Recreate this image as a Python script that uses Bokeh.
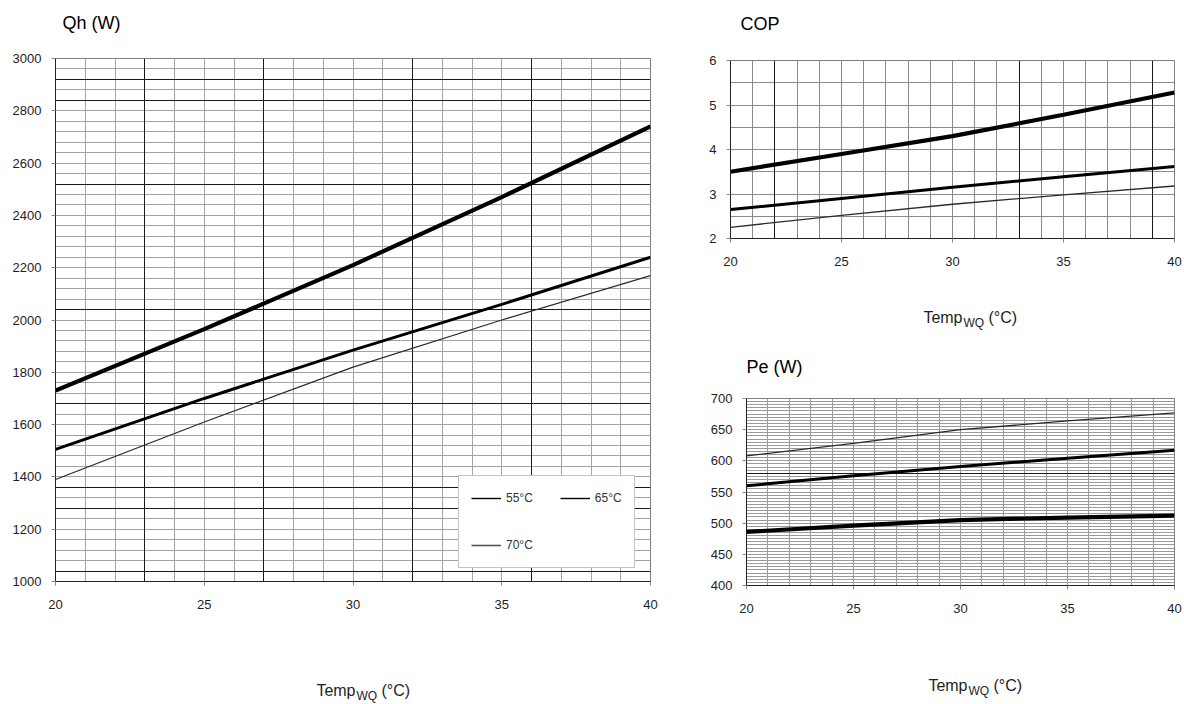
from bokeh.plotting import figure
from bokeh.layouts import row, column
from bokeh.models import (Legend, LegendItem, Grid, SingleIntervalTicker, FixedTicker,
                          Range1d)
from bokeh.core.properties import value
from bokeh.embed import file_html
from bokeh.resources import INLINE

# ---------------- data ----------------
temp = [20, 25, 30, 35, 40]
series_labels = ["55°C", "65°C", "70°C"]

qh_55 = [1730, 1965, 2210, 2470, 2740]
qh_65 = [1505, 1700, 1885, 2060, 2240]
qh_70 = [1390, 1610, 1820, 2000, 2170]

cop_55 = [3.50, 3.90, 4.30, 4.78, 5.28]
cop_65 = [2.65, 2.90, 3.15, 3.39, 3.62]
cop_70 = [2.25, 2.52, 2.77, 2.98, 3.18]

pe_55 = [486, 496, 505, 509, 512]
pe_65 = [560, 576, 591, 604, 617]
pe_70 = [608, 628, 650, 664, 677]

x_ticks = [20, 25, 30, 35, 40]
titles = ["Qh (W)", "COP", "Pe (W)"]

# ---------------- styling ----------------
FONT = "Liberation Sans"
TXT = "#1e1e24"
LINE_STYLES = [dict(line_color="black", line_width=4.2),
               dict(line_color="black", line_width=3.0),
               dict(line_color="#2a2a2a", line_width=1.3)]
BASE_SHIFT = -6   # text glyph baseline correction


def make_fig(w, h, bl, br, bt, bb, yr, ystep, xgrid_step, ygrid_step,
             dark_x, dark_y, grid_color):
    p = figure(width=w, height=h, x_range=Range1d(20, 40), y_range=Range1d(*yr),
               min_border_left=bl, min_border_right=br, min_border_top=bt,
               min_border_bottom=bb, output_backend="svg", toolbar_location=None,
               background_fill_color="white", border_fill_color="white")
    p.xaxis.ticker = FixedTicker(ticks=x_ticks)
    p.yaxis.ticker = SingleIntervalTicker(interval=ystep, num_minor_ticks=0)
    for ax in (p.xaxis, p.yaxis):
        ax.axis_line_color = "#222"
        ax.axis_line_width = 1
        ax.major_tick_line_color = "#888"
        ax.major_tick_in = 0
        ax.major_tick_out = 4
        ax.minor_tick_line_color = None
        ax.major_label_text_font = FONT
        ax.major_label_text_font_size = "13px"
        ax.major_label_text_color = TXT
    p.yaxis.major_label_standoff = 10
    p.xaxis.major_label_standoff = 14

    p.xgrid.ticker = SingleIntervalTicker(interval=xgrid_step, num_minor_ticks=0)
    p.ygrid.ticker = SingleIntervalTicker(interval=ygrid_step, num_minor_ticks=0)
    p.grid.grid_line_color = grid_color
    p.grid.grid_line_width = 1
    p.grid.grid_line_alpha = 1
    if dark_x:
        p.add_layout(Grid(dimension=0, ticker=FixedTicker(ticks=dark_x),
                          grid_line_color="#1a1a1a", grid_line_width=1))
    if dark_y:
        p.add_layout(Grid(dimension=1, ticker=FixedTicker(ticks=dark_y),
                          grid_line_color="#1a1a1a", grid_line_width=1))
    p.outline_line_color = "#808080"
    return p


def strip(width, height, bl, br):
    # blank panel; data units equal canvas pixels (y measured downward)
    s = figure(width=width, height=height, x_range=Range1d(bl, width - br),
               y_range=Range1d(height, 0), min_border_left=bl, min_border_right=br,
               min_border_top=0, min_border_bottom=0, x_axis_location=None,
               y_axis_location=None, output_backend="svg", toolbar_location=None)
    s.grid.visible = False
    s.outline_line_color = None
    return s


def add_title(s, x, base, text):
    s.text(x=[x], y=[base + BASE_SHIFT], text=[text], text_font=value(FONT),
           text_font_size="18px", text_color="black", text_baseline="alphabetic",
           text_align="left")


def add_xlabel(s, x0, base):
    common = dict(text_font=value(FONT), text_color=TXT, text_baseline="alphabetic")
    b = base + BASE_SHIFT
    s.text(x=[x0 + 42], y=[b], text=["Temp"], text_font_size="16px",
           text_align="right", **common)
    s.text(x=[x0 + 43], y=[b + 5], text=["WQ"], text_font_size="12px",
           text_align="left", **common)
    s.text(x=[x0 + 68], y=[b], text=["(°C)"], text_font_size="16px",
           text_align="left", **common)


# ---------------- Qh (left column) ----------------
t1 = strip(690, 48, 55, 40)
add_title(t1, 62, 28, titles[0])

p1 = make_fig(690, 592, 55, 40, 10, 59, (1000, 3000), 200, 1, 40,
              [23, 27, 32, 36], [1040, 1280, 1360, 1680, 2040, 2520, 2840, 2920],
              "#a3a3a3")
for ys, st in zip([qh_55, qh_65, qh_70], LINE_STYLES):
    p1.line(temp, ys, **st)

nan = float("nan")
leg_styles = {"55°C": dict(line_color="black", line_width=1.4),
              "65°C": dict(line_color="black", line_width=1.4),
              "70°C": dict(line_color="#555555", line_width=1.6)}
leg_r = {lab: p1.line([nan], [nan], **leg_styles[lab]) for lab in series_labels}
order = [series_labels[0], series_labels[2], series_labels[1]]
legend = Legend(items=[LegendItem(label=lab, renderers=[leg_r[lab]]) for lab in order],
                ncols=2, location=(403, 13), margin=0, padding=12, spacing=27,
                glyph_width=30, glyph_height=20, label_height=20, label_width=22,
                label_standoff=5, label_text_font=FONT, label_text_font_size="12px",
                label_text_color="#333333", border_line_color="#8c8c8c",
                border_line_width=1, background_fill_color="white",
                background_fill_alpha=1)
p1.add_layout(legend)

b1 = strip(690, 64, 55, 40)
add_xlabel(b1, 313, 56)

# ---------------- COP / Pe (right column) ----------------
t2 = strip(494, 50, 40, 10)
add_title(t2, 50, 29, titles[1])

p2 = make_fig(494, 250, 40, 10, 10, 62, (2, 6), 1, 1, 0.5,
              [22, 33, 39], None, "#8a8a8a")
for ys, st in zip([cop_55, cop_65, cop_70], LINE_STYLES):
    p2.line(temp, ys, **st)

m2 = strip(494, 88, 40, 10)
add_xlabel(m2, 230, 23)
add_title(m2, 56, 72, titles[2])

p3 = make_fig(494, 272, 56, 10, 10, 75, (400, 700), 50, 1, 5,
              None, [580], "#9a9a9a")
for ys, st in zip([pe_55, pe_65, pe_70], LINE_STYLES):
    p3.line(temp, ys, **st)

b3 = strip(494, 44, 56, 10)
add_xlabel(b3, 235, 31)

right = column(column(t2, p2, m2), column(p3, b3))
layout = row(column(t1, p1, b1), right)
open("out.html", "w").write(file_html(layout, INLINE))
